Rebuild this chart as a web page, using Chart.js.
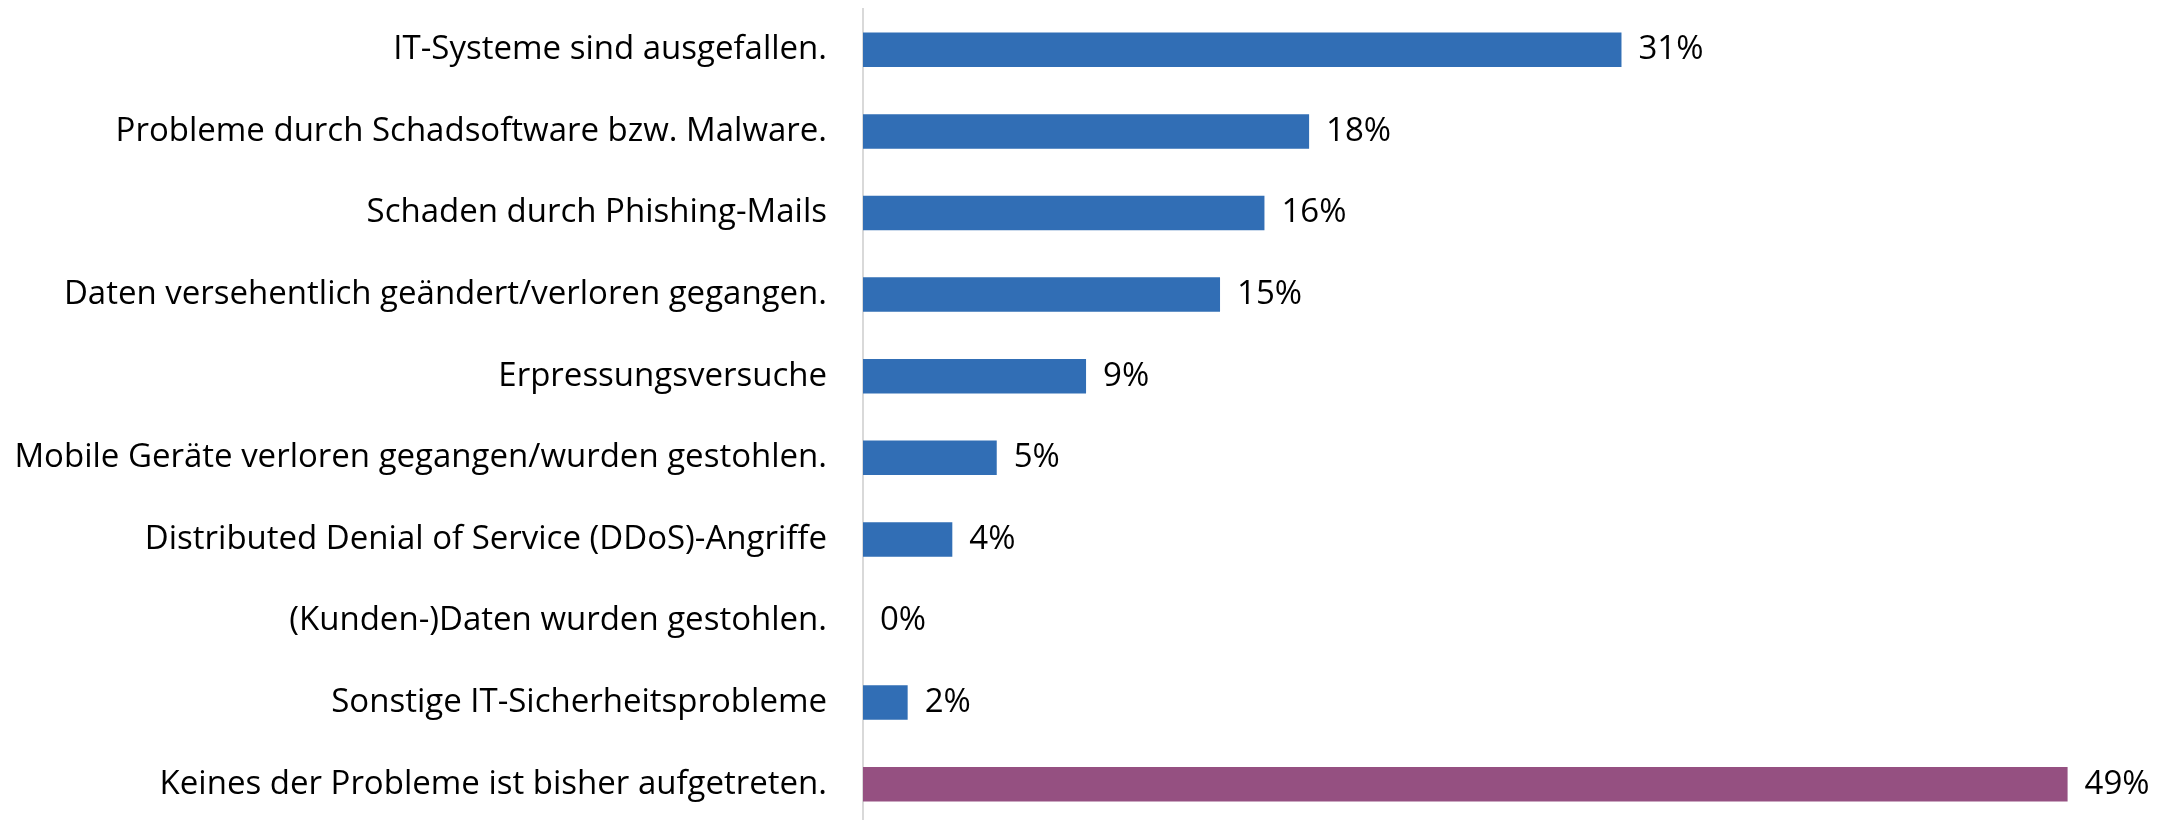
<!DOCTYPE html>
<html>
<head>
<meta charset="utf-8">
<script src="https://cdn.jsdelivr.net/npm/chart.js@4"></script>
<style>
  html, body { margin: 0; padding: 0; background: #fff; overflow: hidden; }
</style>
</head>
<body>
<canvas id="chart" width="2161" height="830"></canvas>
<script>
const categories = [
  'IT-Systeme sind ausgefallen.',
  'Probleme durch Schadsoftware bzw. Malware.',
  'Schaden durch Phishing-Mails',
  'Daten versehentlich geändert/verloren gegangen.',
  'Erpressungsversuche',
  'Mobile Geräte verloren gegangen/wurden gestohlen.',
  'Distributed Denial of Service (DDoS)-Angriffe',
  '(Kunden-)Daten wurden gestohlen.',
  'Sonstige IT-Sicherheitsprobleme',
  'Keines der Probleme ist bisher aufgetreten.'
];
const values = [30.91, 18.18, 16.36, 14.55, 9.09, 5.45, 3.64, 0, 1.82, 49.09];
const barColors = ['#316EB5', '#316EB5', '#316EB5', '#316EB5', '#316EB5', '#316EB5', '#316EB5', '#316EB5', '#316EB5', '#955081'];

const FONT = "'Open Sans', sans-serif";

// draws the "31%" style labels right of each bar
const valueLabels = {
  id: 'valueLabels',
  afterDatasetsDraw(chart) {
    const ctx = chart.ctx;
    const meta = chart.getDatasetMeta(0);
    ctx.save();
    ctx.font = `33px ${FONT}`;
    ctx.fillStyle = '#000';
    ctx.textAlign = 'left';
    ctx.textBaseline = 'middle';
    meta.data.forEach((bar, i) => {
      ctx.fillText(Math.round(values[i]) + '%', bar.x + 17, bar.y);
    });
    ctx.restore();
  }
};

new Chart(document.getElementById('chart'), {
  type: 'bar',
  data: {
    labels: categories,
    datasets: [{
      data: values,
      backgroundColor: barColors,
      borderWidth: 0,
      categoryPercentage: 1,
      barPercentage: 0.423
    }]
  },
  options: {
    indexAxis: 'y',
    responsive: false,
    animation: false,
    layout: { padding: { top: 9, bottom: 5, left: 0, right: 22 } },
    plugins: { legend: { display: false }, tooltip: { enabled: false } },
    scales: {
      x: { display: false, min: 0, max: 52 },
      y: {
        afterFit: (scale) => {
          scale.width = 863;
          scale.paddingTop = 0;
          scale.paddingBottom = 0;
        },
        grid: { display: false, drawTicks: false },
        border: { display: true, color: '#d9d9d9', width: 2 },
        ticks: { color: '#000', padding: 36, font: { family: FONT, size: 33 } }
      }
    }
  },
  plugins: [valueLabels]
});
</script>
</body>
</html>
